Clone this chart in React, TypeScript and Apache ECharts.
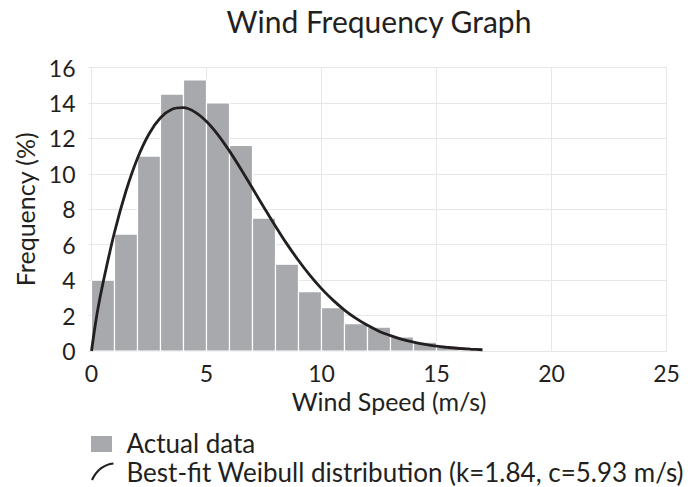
import React, { useEffect, useRef } from "react";
import * as echarts from "echarts";

const titleText = "Wind Frequency Graph";
const xAxisName = "Wind Speed (m/s)";
const yAxisName = "Frequency (%)";
const legendBars = "Actual data";
const legendCurve = "Best-fit Weibull distribution (k=1.84, c=5.93 m/s)";

// histogram bins (m/s) and frequency (%)
const binStart = [0, 1, 2, 3, 4, 5, 6, 7, 8, 9, 10, 11, 12, 13, 14, 15];
const binEnd = [1, 2, 3, 4, 5, 6, 7, 8, 9, 10, 11, 12, 13, 14, 15, 16];
const frequency = [4.0, 6.6, 11.0, 14.5, 15.3, 14.0, 11.6, 7.5, 4.9, 3.35, 2.45, 1.55, 1.35, 0.8, 0.5, 0.22];

// best-fit curve points
const curveSpeed = [0, 0.25, 0.5, 1, 1.5, 2, 2.5, 3, 3.5, 4, 4.5, 5, 5.5, 6, 6.5, 7, 7.5, 8, 8.5, 9, 9.5, 10, 10.5, 11, 11.5, 12, 12.5, 13, 13.5, 14, 14.5, 15, 15.5, 16, 16.5, 17];
const curveFreq = [0, 2.17, 3.84, 6.7, 9.03, 10.88, 12.25, 13.16, 13.64, 13.73, 13.48, 12.95, 12.2, 11.28, 10.26, 9.18, 8.1, 7.04, 6.03, 5.11, 4.27, 3.52, 2.87, 2.31, 1.84, 1.45, 1.12, 0.87, 0.66, 0.5, 0.37, 0.27, 0.2, 0.14, 0.1, 0.07];

const FONT = "Lato, 'Open Sans', sans-serif";
const TEXT = "#231f20";
const BAR = "#a7a9ac";
const GRID = "#e6e7e8";

export default function App() {
  const ref = useRef<HTMLDivElement>(null);
  useEffect(() => {
    document.body.style.margin = "0";
    if (!ref.current) return;
    const chart = echarts.init(ref.current, undefined, { renderer: "svg" });
    const barData = binStart.map((s, i) => [s, binEnd[i], frequency[i]]);
    const curveData = curveSpeed.map((s, i) => [s, curveFreq[i]]);
    chart.setOption({
      animation: false,
      backgroundColor: "#ffffff",
      textStyle: { fontFamily: FONT, color: TEXT },
      title: {
        text: titleText,
        left: 379,
        top: 6,
        padding: 0,
        textAlign: "center",
        textStyle: { fontFamily: FONT, fontSize: 30, fontWeight: "normal", color: TEXT },
      },
      grid: { left: 91.5, top: 67.5, width: 575, height: 283.5 },
      xAxis: {
        type: "value",
        min: 0,
        max: 25,
        interval: 5,
        name: xAxisName,
        nameLocation: "middle",
        nameGap: 37,
        nameTextStyle: { fontFamily: FONT, fontSize: 25, color: TEXT, padding: [0, 0, 0, 20] },
        axisLine: { show: true, lineStyle: { color: GRID, width: 1 } },
        axisTick: { show: false },
        axisLabel: { fontFamily: FONT, fontSize: 23, color: TEXT, margin: 10 },
        splitLine: { show: true, lineStyle: { color: GRID, width: 1 } },
      },
      yAxis: {
        type: "value",
        min: 0,
        max: 16,
        interval: 2,
        name: yAxisName,
        nameLocation: "middle",
        nameGap: 54,
        nameTextStyle: { fontFamily: FONT, fontSize: 25, color: TEXT },
        axisLine: { show: true, lineStyle: { color: GRID, width: 1 } },
        axisTick: { show: true, length: 3, lineStyle: { color: GRID } },
        axisLabel: { fontFamily: FONT, fontSize: 23, color: TEXT, margin: 16 },
        splitLine: { show: true, lineStyle: { color: GRID, width: 1 } },
      },
      series: [
        {
          type: "custom",
          name: legendBars,
          data: barData,
          encode: { x: [0, 1], y: 2 },
          renderItem: (params: any, api: any) => {
            const p0 = api.coord([api.value(0), api.value(2)]);
            const p1 = api.coord([api.value(1), 0]);
            return {
              type: "rect",
              shape: { x: p0[0], y: p0[1], width: p1[0] - p0[0], height: p1[1] - p0[1] },
              style: { fill: BAR, stroke: "#ffffff", lineWidth: 1.2 },
            };
          },
          z: 2,
        },
        {
          type: "line",
          name: legendCurve,
          data: curveData,
          smooth: 0.35,
          showSymbol: false,
          lineStyle: { color: TEXT, width: 2.8 },
          z: 3,
        },
      ],
      graphic: [
        { type: "rect", shape: { x: 91, y: 436, width: 21, height: 16 }, style: { fill: BAR } },
        {
          type: "text",
          x: 126.5,
          y: 443,
          style: { text: legendBars, fontFamily: FONT, fontSize: 26, fill: TEXT, textVerticalAlign: "middle" },
        },
        {
          type: "bezierCurve",
          shape: { x1: 92, y1: 480, cpx1: 99, cpy1: 465, x2: 113.5, y2: 463.5 },
          style: { stroke: TEXT, lineWidth: 2.2, fill: "none" },
        },
        {
          type: "text",
          x: 126.5,
          y: 472,
          style: { text: legendCurve, fontFamily: FONT, fontSize: 26, fill: TEXT, textVerticalAlign: "middle" },
        },
      ],
    });
    return () => chart.dispose();
  }, []);
  return <div ref={ref} style={{ width: 695, height: 487 }} />;
}
